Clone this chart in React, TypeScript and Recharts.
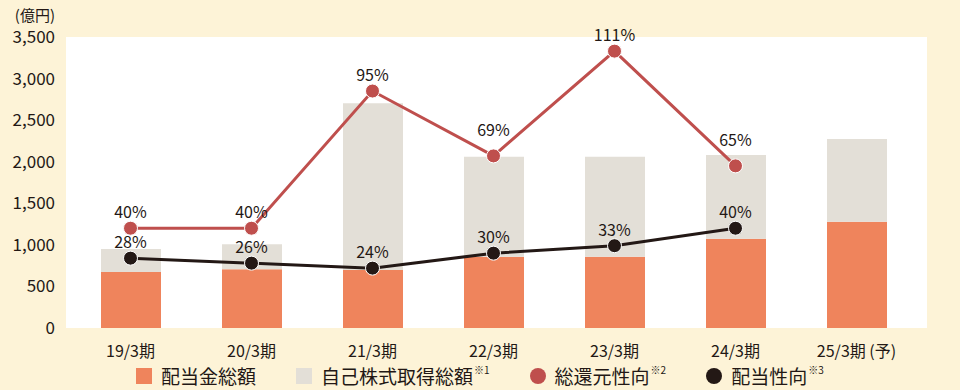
import React from 'react';
import { ComposedChart, Bar, Line, XAxis, YAxis, CartesianGrid, LabelList } from 'recharts';

const periods = ['19/3期', '20/3期', '21/3期', '22/3期', '23/3期', '24/3期', '25/3期 (予)'];
const dividendTotal = [673, 706, 698, 858, 858, 1074, 1278];
const buybackTotal = [277, 300, 2004, 1202, 1202, 1007, 995];
const totalReturnRatio = [40, 40, 95, 69, 111, 65, null];
const payoutRatio = [28, 26, 24, 30, 33, 40, null];
const yTicks = [0, 500, 1000, 1500, 2000, 2500, 3000, 3500];

const data = periods.map((p, i) => ({
  period: p,
  dividend: dividendTotal[i],
  buyback: buybackTotal[i],
  totalReturn: totalReturnRatio[i],
  payout: payoutRatio[i],
}));

const FONT = '"Noto Sans CJK JP", "Noto Sans", sans-serif';
const TEXT = '#231815';
const CREAM = '#fdf3d7';
const ORANGE = '#ef845c';
const GRAY = '#e3dfd7';
const RED = '#bf4f4d';
const BLACK = '#231815';

// percent axis shares the left scale: 1% = 30億円
const PCT_MAX = 3500 / 30;

const makePctLabel = (values: (number | null)[]) => (props: any) => {
  const { x, y, value, index } = props;
  if (value == null) return null;
  const prev = index > 0 ? values[index - 1] : null;
  const lift = prev != null && prev - value > 10 ? 20 : 10;
  return (
    <text x={x} y={y - lift} textAnchor="middle" fill={TEXT} fontSize={16} fontFamily={FONT}>
      {value}%
    </text>
  );
};

const legendItems = [
  { label: '配当金総額', note: '', color: ORANGE, shape: 'square' },
  { label: '自己株式取得総額', note: '※1', color: GRAY, shape: 'square' },
  { label: '総還元性向', note: '※2', color: RED, shape: 'circle' },
  { label: '配当性向', note: '※3', color: BLACK, shape: 'circle' },
];

export default function App() {
  return (
    <div
      style={{
        position: 'absolute',
        left: 0,
        top: 0,
        width: 960,
        height: 390,
        background: CREAM,
        fontFamily: FONT,
        color: TEXT,
        overflow: 'hidden',
      }}
    >
      <div
        style={{ position: 'absolute', left: 0, width: 55, top: 7, textAlign: 'right', fontSize: 15, lineHeight: '16px' }}
      >
        (億円)
      </div>
      <ComposedChart
        width={960}
        height={390}
        data={data}
        margin={{ top: 37, right: 33, bottom: 32, left: 0 }}
        barSize={60}
      >
        <CartesianGrid fill="#ffffff" stroke="none" horizontal={false} vertical={false} />
        <XAxis
          dataKey="period"
          height={30}
          axisLine={false}
          tickLine={false}
          tickSize={0}
          tickMargin={18}
          padding={{ left: 4, right: 10 }}
          tick={{ fill: TEXT, fontSize: 16, fontFamily: FONT }}
        />
        <YAxis
          yAxisId="amount"
          width={66}
          domain={[0, 3500]}
          ticks={yTicks}
          axisLine={false}
          tickLine={false}
          tickSize={0}
          tickMargin={11}
          tickFormatter={(v: number) => v.toLocaleString('en-US')}
          tick={{ fill: TEXT, fontSize: 17, fontFamily: FONT }}
        />
        <YAxis yAxisId="pct" orientation="right" hide domain={[0, PCT_MAX]} />
        <Bar yAxisId="amount" dataKey="dividend" stackId="a" fill={ORANGE} isAnimationActive={false} />
        <Bar yAxisId="amount" dataKey="buyback" stackId="a" fill={GRAY} isAnimationActive={false} />
        <Line
          yAxisId="pct"
          dataKey="totalReturn"
          stroke={RED}
          strokeWidth={3}
          dot={{ r: 7, fill: RED, stroke: '#ffffff', strokeWidth: 1 }}
          activeDot={false}
          isAnimationActive={false}
        >
          <LabelList dataKey="totalReturn" content={makePctLabel(totalReturnRatio)} />
        </Line>
        <Line
          yAxisId="pct"
          dataKey="payout"
          stroke={BLACK}
          strokeWidth={3}
          dot={{ r: 7, fill: BLACK, stroke: '#ffffff', strokeWidth: 1 }}
          activeDot={false}
          isAnimationActive={false}
        >
          <LabelList dataKey="payout" content={makePctLabel(payoutRatio)} />
        </Line>
      </ComposedChart>
      <div
        style={{
          position: 'absolute',
          left: 136,
          top: 366,
          display: 'flex',
          alignItems: 'center',
          fontSize: 19,
          lineHeight: '20px',
        }}
      >
        {legendItems.map((item, i) => (
          <div key={item.label} style={{ display: 'flex', alignItems: 'center', marginLeft: i === 0 ? 0 : 40 }}>
            <span
              style={{
                display: 'inline-block',
                width: 16,
                height: 16,
                background: item.color,
                borderRadius: item.shape === 'circle' ? '50%' : 0,
                marginRight: 9,
              }}
            />
            <span>{item.label}</span>
            {item.note && (
              <span style={{ fontSize: 10, lineHeight: '10px', position: 'relative', top: -6, marginLeft: 1 }}>
                {item.note}
              </span>
            )}
          </div>
        ))}
      </div>
    </div>
  );
}
